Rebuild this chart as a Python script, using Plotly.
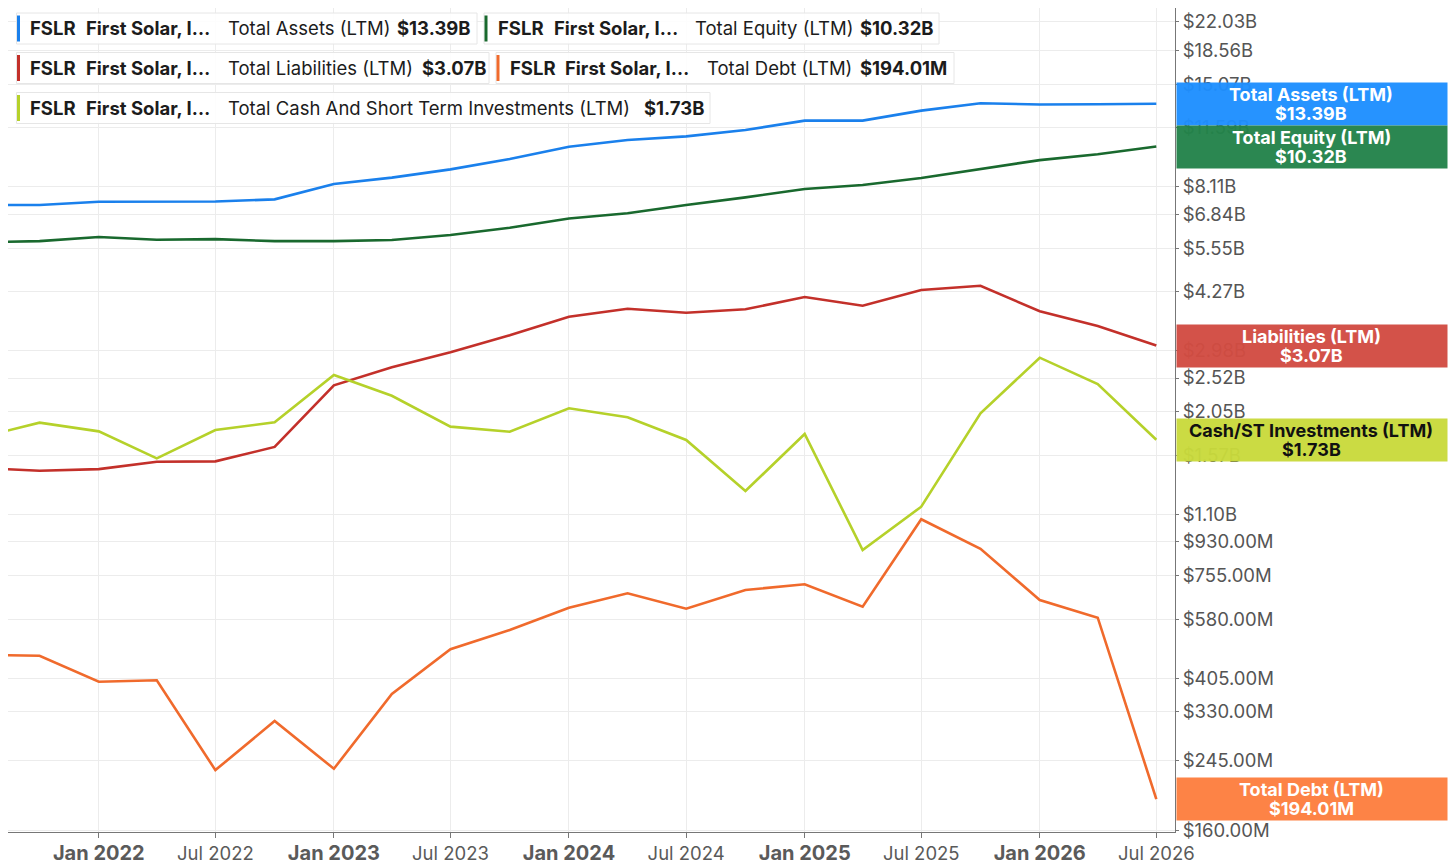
import math
import plotly.graph_objects as go

# quarterly LTM values for FSLR (first point sits just left of the visible range)
dates = ["2021-07-01", "2021-10-01", "2022-01-01", "2022-04-01", "2022-07-01", "2022-10-01",
         "2023-01-01", "2023-04-01", "2023-07-01", "2023-10-01", "2024-01-01", "2024-04-01",
         "2024-07-01", "2024-10-01", "2025-01-01", "2025-04-01", "2025-07-01", "2025-10-01",
         "2026-01-01", "2026-04-01", "2026-07-01"]

total_assets = [7.23e9, 7.23e9, 7.37e9, 7.36e9, 7.38e9, 7.48e9, 8.21e9, 8.54e9, 8.98e9, 9.56e9,
                10.30e9, 10.74e9, 10.98e9, 11.41e9, 12.08e9, 12.08e9, 12.84e9, 13.43e9, 13.33e9,
                13.35e9, 13.39e9]
total_equity = [5.76e9, 5.80e9, 5.95e9, 5.85e9, 5.87e9, 5.80e9, 5.80e9, 5.84e9, 6.02e9, 6.29e9,
                6.66e9, 6.87e9, 7.23e9, 7.57e9, 7.97e9, 8.16e9, 8.52e9, 8.98e9, 9.50e9, 9.84e9,
                10.32e9]
total_liabilities = [1.457e9, 1.433e9, 1.447e9, 1.514e9, 1.517e9, 1.656e9, 2.411e9, 2.690e9,
                     2.947e9, 3.268e9, 3.660e9, 3.843e9, 3.751e9, 3.829e9, 4.126e9, 3.913e9,
                     4.306e9, 4.421e9, 3.783e9, 3.458e9, 3.07e9]
total_debt = [467e6, 464.5e6, 396.5e6, 399.9e6, 231.4e6, 312.1e6, 233.3e6, 367.8e6, 483.1e6,
              543.1e6, 622.2e6, 679.2e6, 618.4e6, 693e6, 717.5e6, 626e6, 1066e6, 891e6, 652e6,
              585.5e6, 194.01e6]
cash_st = [1.756e9, 1.920e9, 1.821e9, 1.545e9, 1.836e9, 1.924e9, 2.567e9, 2.262e9, 1.874e9,
           1.817e9, 2.096e9, 1.984e9, 1.728e9, 1.266e9, 1.792e9, 0.884e9, 1.151e9, 2.032e9,
           2.852e9, 2.430e9, 1.73e9]

series_names = ["Total Assets (LTM)", "Total Equity (LTM)", "Total Liabilities (LTM)",
                "Total Debt (LTM)", "Total Cash And Short Term Investments (LTM)"]
last_labels = ["$13.39B", "$10.32B", "$3.07B", "$194.01M", "$1.73B"]
box_names = ["Total Assets (LTM)", "Total Equity (LTM)", "Liabilities (LTM)",
             "Total Debt (LTM)", "Cash/ST Investments (LTM)"]

y_tickvals = [22.03e9, 18.56e9, 15.07e9, 11.59e9, 8.11e9, 6.84e9, 5.55e9, 4.27e9, 2.98e9,
              2.52e9, 2.05e9, 1.57e9, 1.10e9, 930e6, 755e6, 580e6, 405e6, 330e6, 245e6, 160e6]
y_ticktext = ["$22.03B", "$18.56B", "$15.07B", "$11.59B", "$8.11B", "$6.84B", "$5.55B", "$4.27B",
              "$2.98B", "$2.52B", "$2.05B", "$1.57B", "$1.10B", "$930.00M", "$755.00M",
              "$580.00M", "$405.00M", "$330.00M", "$245.00M", "$160.00M"]

x_tickvals = ["2022-01-01", "2022-07-01", "2023-01-01", "2023-07-01", "2024-01-01",
              "2024-07-01", "2025-01-01", "2025-07-01", "2026-01-01", "2026-07-01"]
x_ticktext = ["Jan 2022", "Jul 2022", "Jan 2023", "Jul 2023", "Jan 2024", "Jul 2024",
              "Jan 2025", "Jul 2025", "Jan 2026", "Jul 2026"]

line_colors = ["#1a80ec", "#19692e", "#c3302a", "#f06a2c", "#b5d12a"]
box_colors = ["#1e8fff", "#23834a", "#d24c42", "#fd7e3f", "#c9da3c"]
box_text = ["white", "white", "white", "white", "#111111"]

FONT = "Inter, Roboto, sans-serif"

fig = go.Figure()
all_series = [total_assets, total_equity, total_liabilities, total_debt, cash_st]
for name, vals, col in zip(series_names, all_series, line_colors):
    fig.add_trace(go.Scatter(x=dates, y=vals, mode="lines", name=name,
                             line=dict(color=col, width=2.6)))

# plot area in page pixels (page body has an 8px margin)
L, R, T, B = 8, 1175, 8, 832
W, H = 1448, 858


def px(x):
    return (x - L) / (R - L)


def py(y):
    return (B - y) / (B - T)


shapes = []
annotations = []

# legend chips at top left
chips = [
    # (left, right, center y, series index, x of pieces)
    (16.5, 477, 28.5, 0, (28, 84, 226, 395)),
    (484, 939, 28.5, 1, (496, 552, 693, 858)),
    (16.5, 489, 68, 2, (28, 84, 226, 420)),
    (496, 954, 68, 3, (508, 563, 705, 858)),
    (16.5, 710, 108, 4, (28, 84, 226, 642)),
]
for left, right, cy, idx, xs in chips:
    shapes.append(dict(type="rect", xref="paper", yref="paper",
                       x0=px(left), x1=px(right), y0=py(cy + 15.5), y1=py(cy - 15.5),
                       fillcolor="rgba(255,255,255,0.88)",
                       line=dict(color="#e6e6e6", width=1), layer="above"))
    shapes.append(dict(type="line", xref="paper", yref="paper",
                       x0=px(left + 2), x1=px(left + 2), y0=py(cy + 13), y1=py(cy - 13),
                       line=dict(color=line_colors[idx], width=3), layer="above"))
    pieces = ["<b>FSLR</b>", "<b>First Solar, I…</b>", series_names[idx],
              "<b>" + last_labels[idx] + "</b>"]
    for xx, t in zip(xs, pieces):
        annotations.append(dict(xref="paper", yref="paper", x=px(xx), y=py(cy),
                                xanchor="left", yanchor="middle", text=t, showarrow=False,
                                font=dict(family=FONT, size=18.5, color="#1c1c1c")))

# value boxes on the right axis
for i, vals in enumerate(all_series):
    yv = math.log10(vals[-1])
    annotations.append(dict(xref="paper", yref="y", x=1.0, xshift=1, y=yv,
                            xanchor="left", yanchor="middle", text=" ", showarrow=False,
                            width=270, height=42, borderpad=0,
                            bgcolor=box_colors[i], opacity=0.96))
    for txt, sh in ((box_names[i], 9.5), (last_labels[i], -9.5)):
        annotations.append(dict(xref="paper", yref="y", x=1.0, xshift=136, y=yv, yshift=sh,
                                xanchor="center", yanchor="middle", text="<b>" + txt + "</b>",
                                showarrow=False,
                                font=dict(family=FONT, size=18, color=box_text[i])))

ticktext_x = []
for t in x_ticktext:
    if t.startswith("Jan"):
        ticktext_x.append("<b><span style='font-size:20px'>" + t + "</span></b>")
    else:
        ticktext_x.append(t)

fig.update_layout(
    width=W, height=H,
    margin=dict(l=0, r=W - R + 8, t=0, b=H - B + 8),
    paper_bgcolor="white", plot_bgcolor="white",
    showlegend=False,
    font=dict(family=FONT, color="#555555"),
    shapes=shapes, annotations=annotations,
    xaxis=dict(range=["2021-08-13", "2026-07-30"], tickvals=x_tickvals, ticktext=ticktext_x,
               tickfont=dict(size=18.5, color="#5a5a5a"), ticks="outside", ticklen=5,
               tickcolor="#777777", showgrid=True, gridcolor="#ececec", showline=True,
               linecolor="#777777", mirror=True, zeroline=False),
    yaxis=dict(type="log", side="right", range=[8.2007, 10.3800], tickvals=y_tickvals,
               ticktext=y_ticktext, tickfont=dict(size=18.5, color="#555555"),
               ticks="outside", ticklen=3, tickcolor="#777777", showgrid=True,
               gridcolor="#ececec", showline=True, linecolor="#777777", mirror=True,
               zeroline=False),
)

fig.write_html("out.html")
